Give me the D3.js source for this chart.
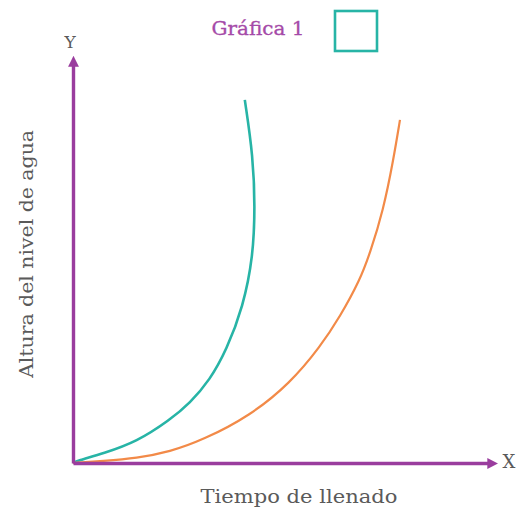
<!DOCTYPE html>
<html><head><meta charset="utf-8">
<script src="https://cdn.jsdelivr.net/npm/d3@7"></script>
<style>body{margin:0;background:#fff}</style>
</head><body>
<svg id="c" width="520" height="515"></svg>
<script>
const title = "Gráfica 1";
const xLabel = "Tiempo de llenado";
const yLabel = "Altura del nivel de agua";
const xAxisName = "X";
const yAxisName = "Y";
// Teal curve (time, height)
const tealX = [0, 0.9, 7.3, 15.3, 23.3, 28.1, 32.9, 36.9, 40.9, 43.3, 43.75, 43.3, 41.3];
const tealY = [0, 0.5, 2.4, 5.3, 10.8, 15, 20.8, 28.3, 39.2, 51.7, 64.2, 76.8, 91];
// Orange curve
const orangeX = [0, 7.2, 15.3, 23.3, 31.3, 42.5, 52.2, 59.4, 64.2, 69, 71.4, 74.6, 77, 78.6];
const orangeY = [0, 0.5, 1.2, 2.8, 5.8, 11.8, 20, 29.1, 36.7, 45.9, 52.6, 63.4, 75.9, 86];

const svg = d3.select("#c");
const x = d3.scaleLinear().domain([0, 100]).range([73, 489]);
const y = d3.scaleLinear().domain([0, 100]).range([463, 64]);
const purple = "#9a3d9e";

const defs = svg.append("defs");
defs.append("marker").attr("id","arr").attr("viewBox","0 0 10 10").attr("refX",2).attr("refY",5)
  .attr("markerWidth",3.2).attr("markerHeight",3.2).attr("orient","auto-start-reverse")
  .append("path").attr("d","M0,0 L10,5 L0,10 z").attr("fill",purple);

const line = d3.line().x(d=>x(d[0])).y(d=>y(d[1])).curve(d3.curveBasis);
svg.append("path").datum(tealX.map((v,i)=>[v,tealY[i]])).attr("d",line)
  .attr("fill","none").attr("stroke","#27b4a6").attr("stroke-width",2.6);
svg.append("path").datum(orangeX.map((v,i)=>[v,orangeY[i]])).attr("d",line)
  .attr("fill","none").attr("stroke","#f28a48").attr("stroke-width",2.2);

const gx = svg.append("g").attr("transform",`translate(0,${y(0)})`)
  .call(d3.axisBottom(x).tickValues([]).tickSizeOuter(0));
gx.select(".domain").attr("stroke",purple).attr("stroke-width",3.4).attr("marker-end","url(#arr)");
const gy = svg.append("g").attr("transform",`translate(${x(0)},0)`)
  .call(d3.axisLeft(y).tickValues([]).tickSizeOuter(0));
gy.select(".domain").attr("stroke",purple).attr("stroke-width",3.4).attr("marker-end","url(#arr)");

const serif = "'DejaVu Serif',serif";
const grey = "#5a5a5a";
svg.append("text").attr("x",70).attr("y",48).attr("text-anchor","middle")
  .attr("font-family",serif).attr("font-size",17).attr("fill",grey).text(yAxisName);
svg.append("text").attr("x",509).attr("y",468).attr("text-anchor","middle")
  .attr("font-family",serif).attr("font-size",18).attr("fill",grey).text(xAxisName);
svg.append("text").attr("x",299).attr("y",503).attr("text-anchor","middle")
  .attr("font-family",serif).attr("font-size",19).attr("fill",grey)
  .attr("textLength",197).attr("lengthAdjust","spacingAndGlyphs").text(xLabel);
svg.append("text").attr("transform","translate(33,254) rotate(-90)").attr("text-anchor","middle")
  .attr("font-family",serif).attr("font-size",19).attr("fill",grey)
  .attr("textLength",248).attr("lengthAdjust","spacingAndGlyphs").text(yLabel);
svg.append("text").attr("x",258).attr("y",35).attr("text-anchor","middle")
  .attr("font-family",serif).attr("font-size",18).attr("fill","#a54aa8").attr("stroke","#a54aa8").attr("stroke-width",0.3)
  .attr("textLength",93).attr("lengthAdjust","spacingAndGlyphs").text(title);
svg.append("rect").attr("x",335).attr("y",11).attr("width",42).attr("height",40)
  .attr("fill","none").attr("stroke","#27b4a6").attr("stroke-width",2.6);
</script>
</body></html>
